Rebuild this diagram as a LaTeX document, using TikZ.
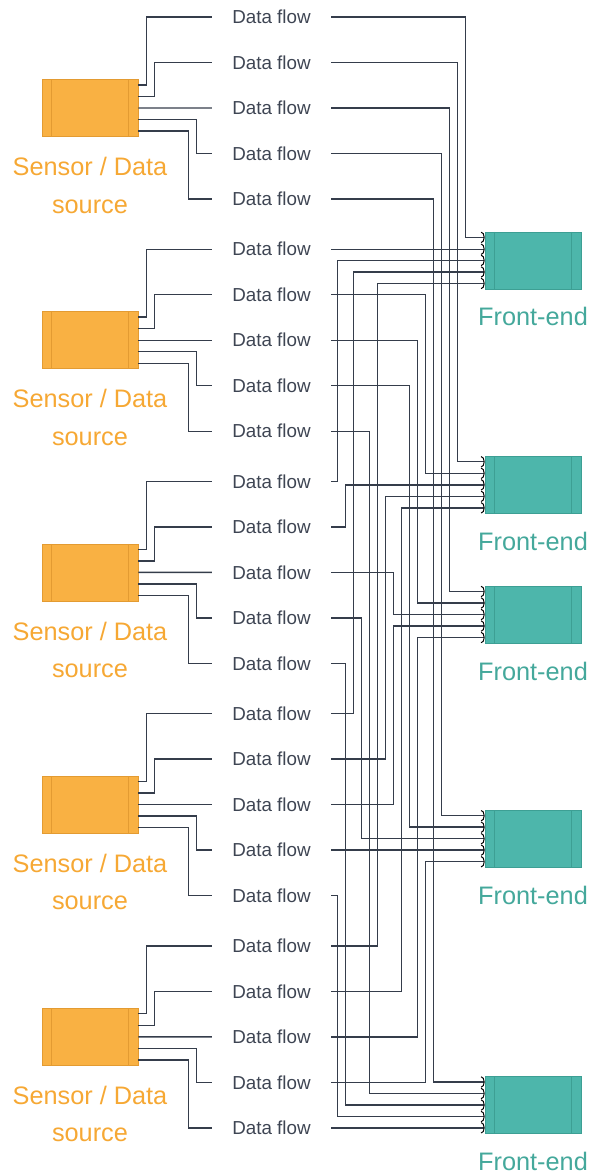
\documentclass[tikz,border=0pt]{standalone}
\usepackage{fontspec}
\setmainfont{Liberation Sans}
\usetikzlibrary{arrows.meta,calc}

\definecolor{srcfill}{HTML}{F9B143}
\definecolor{srcdraw}{HTML}{E39B32}
\definecolor{srctext}{HTML}{F6A834}
\definecolor{fefill}{HTML}{4DB6AB}
\definecolor{fedraw}{HTML}{3D9F94}
\definecolor{fetext}{HTML}{44A89B}
\definecolor{wirecol}{HTML}{353D4B}
\definecolor{flowtext}{HTML}{3E4553}

\begin{document}
\begin{tikzpicture}[x=1pt, y=-1pt,
  unitbox/.style={rectangle, minimum width=96pt, minimum height=57pt,
    inner sep=0pt, line width=0.6pt,
    path picture={
      \draw[line width=0.6pt, #1]
        ([xshift=9.5pt]path picture bounding box.north west) --
        ([xshift=9.5pt]path picture bounding box.south west)
        ([xshift=-9.5pt]path picture bounding box.north east) --
        ([xshift=-9.5pt]path picture bounding box.south east);}},
  sourcebox/.style={unitbox=srcdraw, fill=srcfill, draw=srcdraw},
  frontbox/.style={unitbox=fedraw, fill=fefill, draw=fedraw},
  sourcelabel/.style={text=srctext, align=center, anchor=base, inner sep=0pt,
    font=\fontsize{25.3}{37.3}\selectfont},
  frontlabel/.style={text=fetext, anchor=base, inner sep=0pt,
    font=\fontsize{25.3}{30}\selectfont},
  flowlabel/.style={text=flowtext, inner sep=0pt, minimum width=119pt,
    font=\fontsize{18.8}{22}\selectfont},
  wire/.style={draw=wirecol, line width=1.4pt},
  intake/.style={wire, -{Arc Barb[width=11.4pt, length=3.6pt, line width=1pt, color=black]}}
]
\useasboundingbox (0,0) rectangle (590,1176);

% sources, their output ports and the five flow labels of each
\foreach \i in {1,...,5} {
  \pgfmathsetmacro\cy{108+232.2*(\i-1)}
  \node[sourcebox] (s\i) at (90,\cy) {};
  % base anchor sits on the last line of the two-line label
  \node[sourcelabel] (sl\i) at ($(s\i.center)+(0,105)$) {Sensor / Data\\source};
  \foreach \k/\f in {1/0.1,2/0.3,3/0.5,4/0.7,5/0.9}
    \coordinate (s\i-\k) at ($(s\i.north east)!\f!(s\i.south east)$);
  \foreach \j in {1,...,5} {
    \pgfmathsetmacro\ly{17+232.2*(\i-1)+45.5*(\j-1)}
    \node[flowlabel] (d\i-\j) at (271.5,\ly) {Data flow};
  }
}

% front-ends and their input ports
\foreach \j/\cy in {1/260.4,2/484.8,3/614.5,4/838.7,5/1105.0} {
  \node[frontbox] (f\j) at (533,\cy) {};
  \node[frontlabel] (fl\j) at ($(f\j.center)+(0,65.5)$) {Front-end};
  \foreach \k/\f in {1/0.1,2/0.3,3/0.5,4/0.7,5/0.9}
    \coordinate (f\j-\k) at ($(f\j.north west)!\f!(f\j.south west)$);
}

% source ports to flow labels
\foreach \i in {1,...,5} {
  \draw[wire] (s\i-1) -- ++(8,0) |- (d\i-1.west);
  \draw[wire] (s\i-2) -- ++(16,0) |- (d\i-2.west);
  \draw[wire] (s\i-3) -- (d\i-3.west);
  \draw[wire] (s\i-4) -- ++(58,0) |- (d\i-4.west);
  \draw[wire] (s\i-5) -- ++(50,0) |- (d\i-5.west);
}

% flow labels to front-end ports: source i, flow j -> front-end j, port i
\foreach \i/\j/\o in {1/1/19, 1/2/27, 1/3/35, 1/4/43, 1/5/51,
                      2/2/59, 2/3/67, 2/4/75, 2/5/115,
                      3/1/147, 3/2/139, 3/3/91, 3/4/123, 3/5/139,
                      4/1/131, 4/2/99, 4/3/91, 4/5/147,
                      5/1/107, 5/2/83, 5/3/67, 5/4/59}
  \draw[intake] (d\i-\j.east) -| ([xshift=-\o pt]f\j-\i) -- (f\j-\i);
\foreach \i/\j in {2/1, 4/4, 5/5}
  \draw[intake] (d\i-\j.east) -- (d\i-\j.east -| f\j-\i);
\end{tikzpicture}
\end{document}
